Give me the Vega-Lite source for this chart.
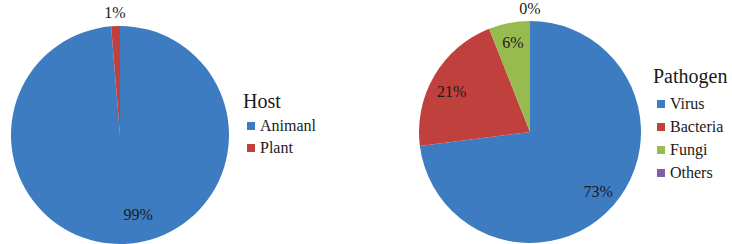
{
  "$schema": "https://vega.github.io/schema/vega-lite/v6.json",
  "padding": 0,
  "spacing": 180,
  "bounds": "flush",
  "background": "white",
  "config": {
    "view": {"stroke": null},
    "font": "Liberation Serif",
    "legend": {
      "orient": "none",
      "titleFont": "Liberation Serif",
      "titleFontSize": 20,
      "titleFontWeight": "normal",
      "titleColor": "#1a1a1a",
      "labelFont": "Liberation Serif",
      "labelFontSize": 16,
      "labelColor": "#1a1a1a",
      "labelOffset": 1,
      "symbolType": "square",
      "symbolSize": 64,
      "symbolStrokeWidth": 0,
      "padding": 0
    },
    "text": {"font": "Liberation Serif", "fontSize": 16, "color": "#1a1a1a"}
  },
  "resolve": {"scale": {"color": "independent", "theta": "independent"}},
  "hconcat": [
    {
      "width": 240,
      "height": 270,
      "data": {"values": [
        {"host": "Animanl", "value": 98.7, "label": "99%"},
        {"host": "Plant", "value": 1.3, "label": "1%"}
      ]},
      "encoding": {
        "theta": {"field": "value", "type": "quantitative", "stack": true},
        "order": {"field": "value", "sort": "descending"}
      },
      "layer": [
        {
          "mark": {"type": "arc", "outerRadius": 109},
          "encoding": {
            "color": {
              "field": "host", "type": "nominal", "title": "Host",
              "scale": {"domain": ["Animanl", "Plant"], "range": ["#3d7cc0", "#c0403d"]},
              "legend": {"legendX": 243, "legendY": 92, "titlePadding": 6, "rowPadding": 6,
                "labelFont": "Liberation Serif", "labelFontSize": 16, "labelColor": "#1a1a1a", "labelOffset": 1,
                "titleFont": "Liberation Serif", "titleFontSize": 20}
            }
          }
        },
        {
          "mark": {"type": "text", "radius": 80, "dx": 15, "font": "Liberation Serif"},
          "encoding": {
            "text": {"condition": {"test": "datum.host === 'Animanl'", "field": "label"}, "value": ""}
          }
        },
        {
          "mark": {"type": "text", "radius": 122, "font": "Liberation Serif"},
          "encoding": {
            "text": {"condition": {"test": "datum.host === 'Plant'", "field": "label"}, "value": ""}
          }
        }
      ]
    },
    {
      "width": 220,
      "height": 264,
      "data": {"values": [
        {"pathogen": "Virus", "value": 73, "label": "73%"},
        {"pathogen": "Bacteria", "value": 21, "label": "21%"},
        {"pathogen": "Fungi", "value": 6, "label": "6%"},
        {"pathogen": "Others", "value": 0, "label": "0%"}
      ]},
      "encoding": {
        "theta": {"field": "value", "type": "quantitative", "stack": true},
        "order": {"field": "value", "sort": "descending"}
      },
      "layer": [
        {
          "mark": {"type": "arc", "outerRadius": 111},
          "encoding": {
            "color": {
              "field": "pathogen", "type": "nominal", "title": "Pathogen",
              "scale": {"domain": ["Virus", "Bacteria", "Fungi", "Others"], "range": ["#3d7cc0", "#c0403d", "#98bb50", "#7f5fa8"]},
              "legend": {"legendX": 233, "legendY": 67, "titlePadding": 9, "rowPadding": 7,
                "labelFont": "Liberation Serif", "labelFontSize": 16, "labelColor": "#1a1a1a", "labelOffset": 1,
                "titleFont": "Liberation Serif", "titleFontSize": 20}
            }
          }
        },
        {
          "mark": {"type": "text", "radius": 91, "font": "Liberation Serif"},
          "encoding": {
            "text": {"condition": {"test": "datum.pathogen === 'Virus' || datum.pathogen === 'Fungi'", "field": "label"}, "value": ""}
          }
        },
        {
          "mark": {"type": "text", "radius": 91, "dy": 6, "font": "Liberation Serif"},
          "encoding": {
            "text": {"condition": {"test": "datum.pathogen === 'Bacteria'", "field": "label"}, "value": ""}
          }
        },
        {
          "mark": {"type": "text", "radius": 123, "font": "Liberation Serif"},
          "encoding": {
            "text": {"condition": {"test": "datum.pathogen === 'Others'", "field": "label"}, "value": ""}
          }
        }
      ]
    }
  ]
}
